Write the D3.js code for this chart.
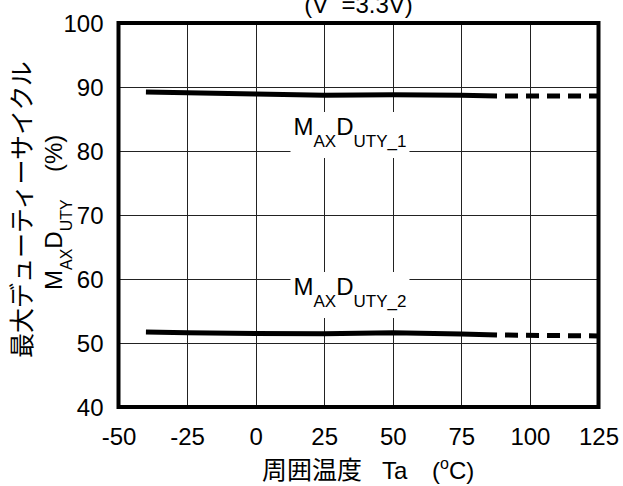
<!DOCTYPE html>
<html><head><meta charset="utf-8">
<script src="https://cdn.jsdelivr.net/npm/d3@7/dist/d3.min.js"></script>
<style>
html,body{margin:0;padding:0;background:#fff;}
text{font-family:"Liberation Sans",Arial,"Noto Sans CJK JP",sans-serif;fill:#000;}
</style></head>
<body><svg id="c" width="623" height="486"></svg>
<script>
// Data
const temps = [-40, -25, 0, 25, 50, 75, 88];
const duty1 = [89.2, 89.1, 88.9, 88.7, 88.8, 88.7, 88.6];
const duty2 = [51.7, 51.6, 51.5, 51.45, 51.6, 51.4, 51.25];
const extTemps = [88, 125];
const duty1Ext = [88.6, 88.6];
const duty2Ext = [51.25, 51.1];
const xTicks = [-50, -25, 0, 25, 50, 75, 100, 125];
const yTicks = [40, 50, 60, 70, 80, 90, 100];

const svg = d3.select("#c");
const L = 118.5, R = 598.5, T = 23, B = 407;
const x = d3.scaleLinear().domain([-50, 125]).range([L, R]);
const y = d3.scaleLinear().domain([40, 100]).range([B, T]);

// grid
const g = svg.append("g");
g.selectAll("line.v").data(xTicks.slice(1, -1)).join("line")
  .attr("x1", d => Math.round(x(d)) + 0.5).attr("x2", d => Math.round(x(d)) + 0.5)
  .attr("y1", T).attr("y2", B).attr("stroke", "#222").attr("stroke-width", 1);
g.selectAll("line.h").data(yTicks.slice(1, -1)).join("line")
  .attr("y1", d => Math.round(y(d)) + 0.5).attr("y2", d => Math.round(y(d)) + 0.5)
  .attr("x1", L).attr("x2", R).attr("stroke", "#222").attr("stroke-width", 1);

// axes labels via d3 axes (hide lines)
const fmt = d => String(d);
const xAxis = svg.append("g").attr("transform", `translate(0,${B})`)
  .call(d3.axisBottom(x).tickValues(xTicks).tickSize(0).tickPadding(38).tickFormat(fmt));
xAxis.select(".domain").remove();
xAxis.selectAll("text").attr("font-size", 24).attr("font-family", null).attr("dy", 0);
const yAxis = svg.append("g").attr("transform", `translate(${L},0)`)
  .call(d3.axisLeft(y).tickValues(yTicks).tickSize(0).tickPadding(15).tickFormat(fmt));
yAxis.select(".domain").remove();
yAxis.selectAll("text").attr("font-size", 24).attr("font-family", null).attr("dy", "0.36em");

// series lines
const line = d3.line().x(d => x(d[0])).y(d => y(d[1]));
function drawSeries(tx, vals, dashed) {
  svg.append("path").datum(d3.zip(tx, vals)).attr("d", line)
    .attr("fill", "none").attr("stroke", "#000").attr("stroke-width", 5)
    .attr("stroke-dasharray", dashed ? "13,8" : null)
    .attr("stroke-dashoffset", dashed ? 13 : null);
}
drawSeries(temps, duty1, false);
drawSeries(extTemps, duty1Ext, true);
drawSeries(temps, duty2, false);
drawSeries(extTemps, duty2Ext, true);

// in-plot labels
function label(tx, ty, num) {
  const grp = svg.append("g");
  const rect = grp.append("rect").attr("fill", "#fff");
  const t = grp.append("text").attr("x", x(tx)).attr("y", y(ty)).attr("font-size", 24);
  t.append("tspan").text("M");
  t.append("tspan").attr("font-size", 17).attr("dy", 12).text("AX");
  t.append("tspan").attr("dy", -12).text("D");
  t.append("tspan").attr("font-size", 17).attr("dy", 12).text("UTY_" + num);
  const bb = t.node().getBBox();
  rect.attr("x", bb.x - 3).attr("y", y(ty) - 23).attr("width", bb.width + 6).attr("height", 46);
}
label(13.8, 82.5, 1);
label(13.8, 57.5, 2);

// frame
svg.append("rect").attr("x", L).attr("y", T).attr("width", R - L).attr("height", B - T)
  .attr("fill", "none").attr("stroke", "#000").attr("stroke-width", 4);

// title (clipped at top, as in the original)
svg.append("text").attr("x", (L + R) / 2).attr("y", 13).attr("text-anchor", "middle")
  .attr("font-size", 24).text("(V\u00a0\u00a0=3.3V)");

// x axis title
const xt = svg.append("text").attr("y", 479).attr("font-size", 24);
xt.append("tspan").attr("x", 262).attr("font-size", 25).text("周囲温度");
xt.append("tspan").attr("x", 382).text("Ta");
xt.append("tspan").attr("x", 432).text("(");
xt.append("tspan").attr("font-size", 16).attr("dy", -10).text("o");
xt.append("tspan").attr("dy", 10).text("C)");

// y axis title (two lines, rotated)
svg.append("text").attr("transform", "translate(31,358) rotate(-90)")
  .attr("font-size", 25).text("最大デューティーサイクル");
const yt = svg.append("text").attr("transform", "translate(62,290) rotate(-90)").attr("font-size", 24);
yt.append("tspan").text("M");
yt.append("tspan").attr("font-size", 16).attr("dy", 10).text("AX");
yt.append("tspan").attr("dy", -10).text("D");
yt.append("tspan").attr("font-size", 16).attr("dy", 10).text("UTY");
yt.append("tspan").attr("x", 118).attr("dy", -10).text("(%)");
</script></body></html>
